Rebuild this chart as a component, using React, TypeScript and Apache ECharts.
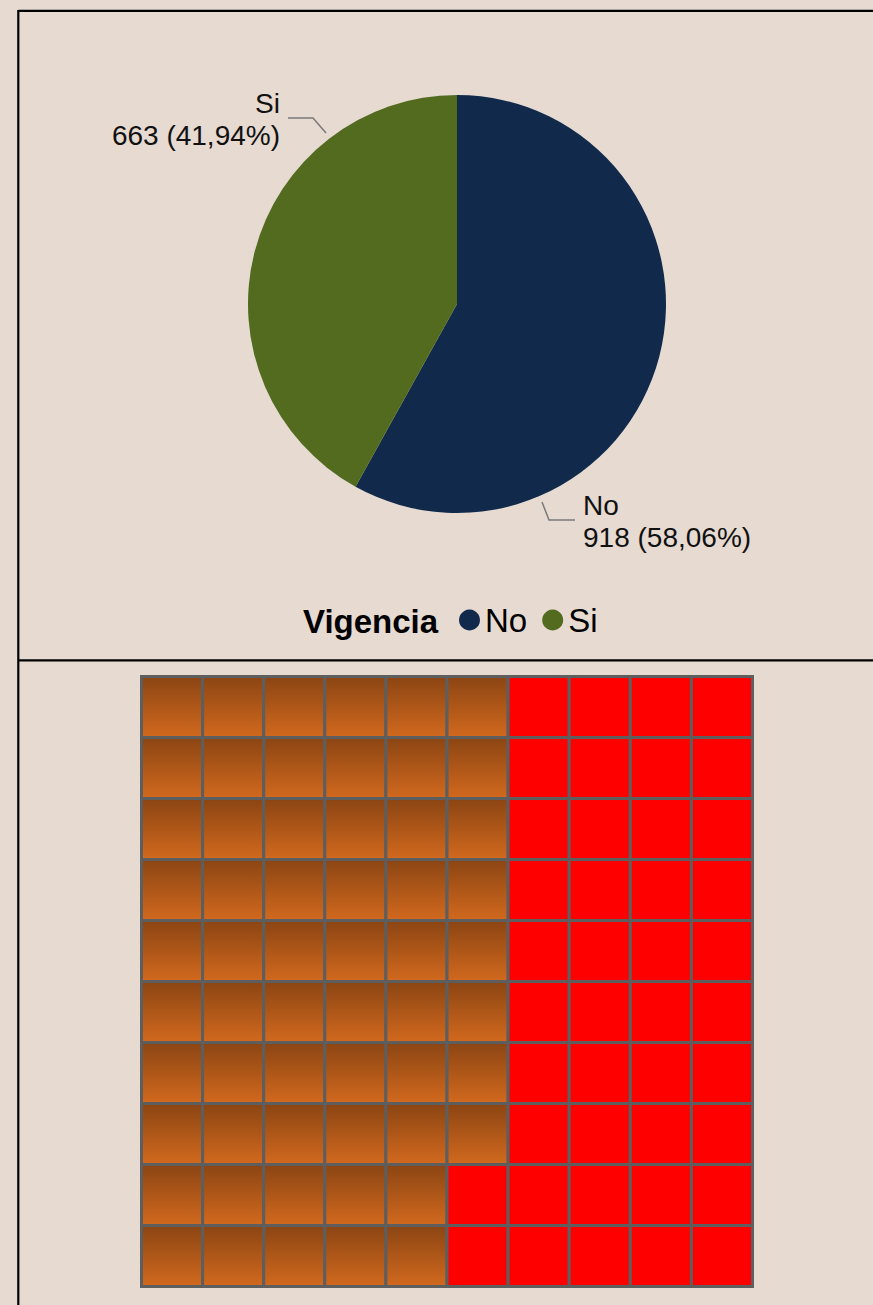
import React, { useEffect, useRef } from "react";
import * as echarts from "echarts";

// ---- data ----
const categories = ["No", "Si"];
const values = [918, 663];
const legendTitle = "Vigencia";
const pieColors = ["#112a4c", "#526b1f"];
const waffleCols = ["0", "1", "2", "3", "4", "5", "6", "7", "8", "9"];
const waffleRows = ["0", "1", "2", "3", "4", "5", "6", "7", "8", "9"];

const BG = "#e6dad1";
const FONT = "'Liberation Sans', Arial, Helvetica, sans-serif";

export default function App() {
  const ref = useRef<HTMLDivElement>(null);

  useEffect(() => {
    document.body.style.margin = "0";
    document.body.style.background = BG;
    document.body.style.overflow = "hidden";
    if (!ref.current) return;
    const chart = echarts.init(ref.current, undefined, { renderer: "svg" });

    const total = values.reduce((a, b) => a + b, 0);
    const counts = values.map((v) => Math.round((v / total) * 100));
    const cells: number[][] = [];
    let idx = 0;
    counts.forEach((c, cat) => {
      for (let k = 0; k < c; k++) {
        const col = Math.floor(idx / waffleRows.length);
        const row = idx % waffleRows.length;
        cells.push([col, row, cat]);
        idx++;
      }
    });

    const orange = new echarts.graphic.LinearGradient(0, 0, 0, 1, [
      { offset: 0, color: "#8b4513" },
      { offset: 1, color: "#d2691e" },
    ]);
    const cellFills = [orange, "#ff0000"];

    const option: any = {
      animation: false,
      backgroundColor: BG,
      textStyle: { fontFamily: FONT },
      legend: {
        data: categories,
        icon: "circle",
        left: 459,
        top: 603.5,
        padding: 0,
        itemWidth: 21,
        itemHeight: 21,
        itemGap: 15,
        selectedMode: false,
        textStyle: { fontSize: 33, color: "#000", fontFamily: FONT, lineHeight: 33 },
      },
      grid: { left: 141.5, top: 676.5, width: 611, height: 610 },
      xAxis: { type: "category", data: waffleCols, show: false },
      yAxis: { type: "category", data: waffleRows, inverse: true, show: false },
      graphic: [
        { type: "line", shape: { x1: 18.3, y1: 10.8, x2: 900, y2: 10.8 }, style: { stroke: "#000", lineWidth: 2.2 } },
        { type: "line", shape: { x1: 18.3, y1: 10, x2: 18.3, y2: 1310 }, style: { stroke: "#000", lineWidth: 2.2 } },
        { type: "line", shape: { x1: 18.3, y1: 660.4, x2: 900, y2: 660.4 }, style: { stroke: "#000", lineWidth: 2.4 } },
        {
          type: "text",
          x: 303,
          y: 621,
          style: {
            text: legendTitle,
            fontSize: 33,
            fontWeight: "bold",
            fontFamily: FONT,
            fill: "#000",
            verticalAlign: "middle",
            align: "left",
          },
        },
      ],
      series: [
        {
          type: "pie",
          center: [457, 304],
          radius: 209,
          startAngle: 90,
          clockwise: true,
          color: pieColors,
          data: categories.map((n, i) => ({ name: n, value: values[i] })),
          label: {
            show: true,
            position: "outside",
            fontSize: 28,
            lineHeight: 32,
            color: "#111",
            fontFamily: FONT,
            overflow: "none",
            edgeDistance: 0,
            formatter: (p: any) =>
              `${p.name}\n${p.value} (${Number(p.percent).toFixed(2).replace(".", ",")}%)`,
          },
          labelLine: { show: true, lineStyle: { color: "#7a7a7a", width: 1.5 } },
          labelLayout: (p: any) => {
            if (p.dataIndex === 0) {
              return {
                x: 583,
                y: 521,
                width: 260,
                align: "left",
                verticalAlign: "middle",
                labelLinePoints: [
                  [542, 502],
                  [549, 520],
                  [575, 520],
                ],
              };
            }
            return {
              x: 280,
              y: 119,
              width: 260,
              align: "right",
              verticalAlign: "middle",
              labelLinePoints: [
                [326, 133],
                [313, 118],
                [288, 118],
              ],
            };
          },
        },
        {
          type: "custom",
          coordinateSystem: "cartesian2d",
          data: cells,
          renderItem: (params: any, api: any) => {
            const c = api.coord([api.value(0), api.value(1)]);
            const s = api.size([1, 1]);
            const cat = api.value(2);
            return {
              type: "rect",
              shape: { x: c[0] - s[0] / 2, y: c[1] - s[1] / 2, width: s[0], height: s[1] },
              style: { fill: cellFills[cat], stroke: "#5e5e5e", lineWidth: 3 },
            };
          },
        },
      ],
    };

    chart.setOption(option);
    return () => chart.dispose();
  }, []);

  return <div ref={ref} style={{ width: 873, height: 1305 }} />;
}
